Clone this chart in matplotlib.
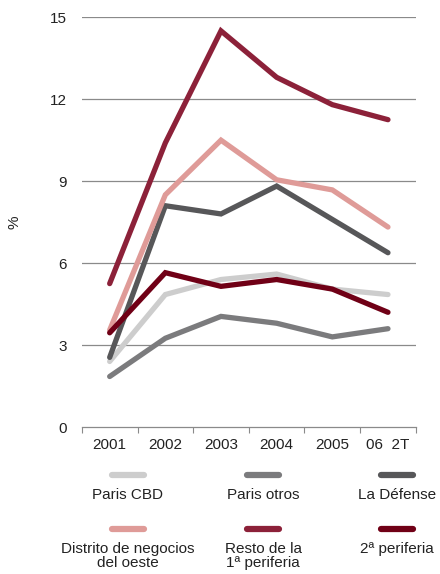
import matplotlib.pyplot as plt
from matplotlib.lines import Line2D

# Tasa de disponibilidad de oficinas, mercado de París (%)
years = ["2001", "2002", "2003", "2004", "2005", "06  2T"]

paris_cbd = [2.4, 4.85, 5.4, 5.6, 5.05, 4.85]
paris_otros = [1.85, 3.25, 4.05, 3.8, 3.3, 3.6]
la_defense = [2.55, 8.1, 7.8, 8.82, 7.6, 6.38]
distrito_oeste = [3.55, 8.5, 10.5, 9.05, 8.68, 7.32]
resto_1a = [5.25, 10.4, 14.5, 12.8, 11.8, 11.25]
periferia_2a = [3.45, 5.65, 5.15, 5.4, 5.05, 4.2]

series = [
    ("Paris CBD", paris_cbd, "#cdcdcd"),
    ("Paris otros", paris_otros, "#7b7b7d"),
    ("La Défense", la_defense, "#575759"),
    ("Distrito de negocios\ndel oeste", distrito_oeste, "#df9b98"),
    ("Resto de la\n1ª periferia", resto_1a, "#8c2139"),
    ("2ª periferia", periferia_2a, "#700016"),
]

yticks = [0, 3, 6, 9, 12, 15]

plt.rcParams['font.family'] = ['Liberation Sans', 'DejaVu Sans']

fig = plt.figure(figsize=(4.4, 5.74), dpi=100)
ax = fig.add_axes([0.186, 0.256, 0.759, 0.714])

x = list(range(len(years)))
for name, vals, col in series:
    ax.plot(x, vals, color=col, lw=3.8, solid_capstyle='round',
            solid_joinstyle='miter', zorder=3)

ax.set_xlim(-0.5, len(years) - 0.5)
ax.set_ylim(0, 15)
ax.set_yticks(yticks)
ax.set_yticklabels([str(v) for v in yticks])
for v in yticks[1:]:
    ax.axhline(v, color="#8a8a8a", lw=0.9, zorder=1)

ax.set_xticks(x)
ax.set_xticklabels(years)
ax.set_xticks([i - 0.5 for i in range(len(years) + 1)], minor=True)
ax.tick_params(axis='x', which='major', length=0, pad=8, labelsize=11,
               colors="#222222")
ax.tick_params(axis='x', which='minor', length=4, width=0.8,
               color="#8a8a8a", direction='out')
ax.tick_params(axis='y', length=0, pad=11, labelsize=11, colors="#222222")

for s in ["top", "right", "left"]:
    ax.spines[s].set_visible(False)
ax.spines["bottom"].set_color("#8a8a8a")
ax.spines["bottom"].set_linewidth(0.9)

ax.set_ylabel("%", fontsize=11, color="#222222")
ax.yaxis.set_label_coords(-0.18, 0.5)

# legend: three columns, swatch above each name
W, H = 440.0, 574.0
col_x = [128, 263, 397]
rows = [(475, 495), (529, 549)]
for i, (name, vals, col) in enumerate(series):
    cx = col_x[i % 3]
    sy, ty = rows[i // 3]
    fig.add_artist(Line2D([(cx - 16) / W, (cx + 16) / W], [1 - sy / H, 1 - sy / H],
                          color=col, lw=4.5, solid_capstyle='round'))
    fig.text(cx / W, 1 - (ty - 7) / H, name, ha='center', va='top',
             fontsize=11, color="#222222", linespacing=1.0)

fig.savefig("out.png", dpi=100)
